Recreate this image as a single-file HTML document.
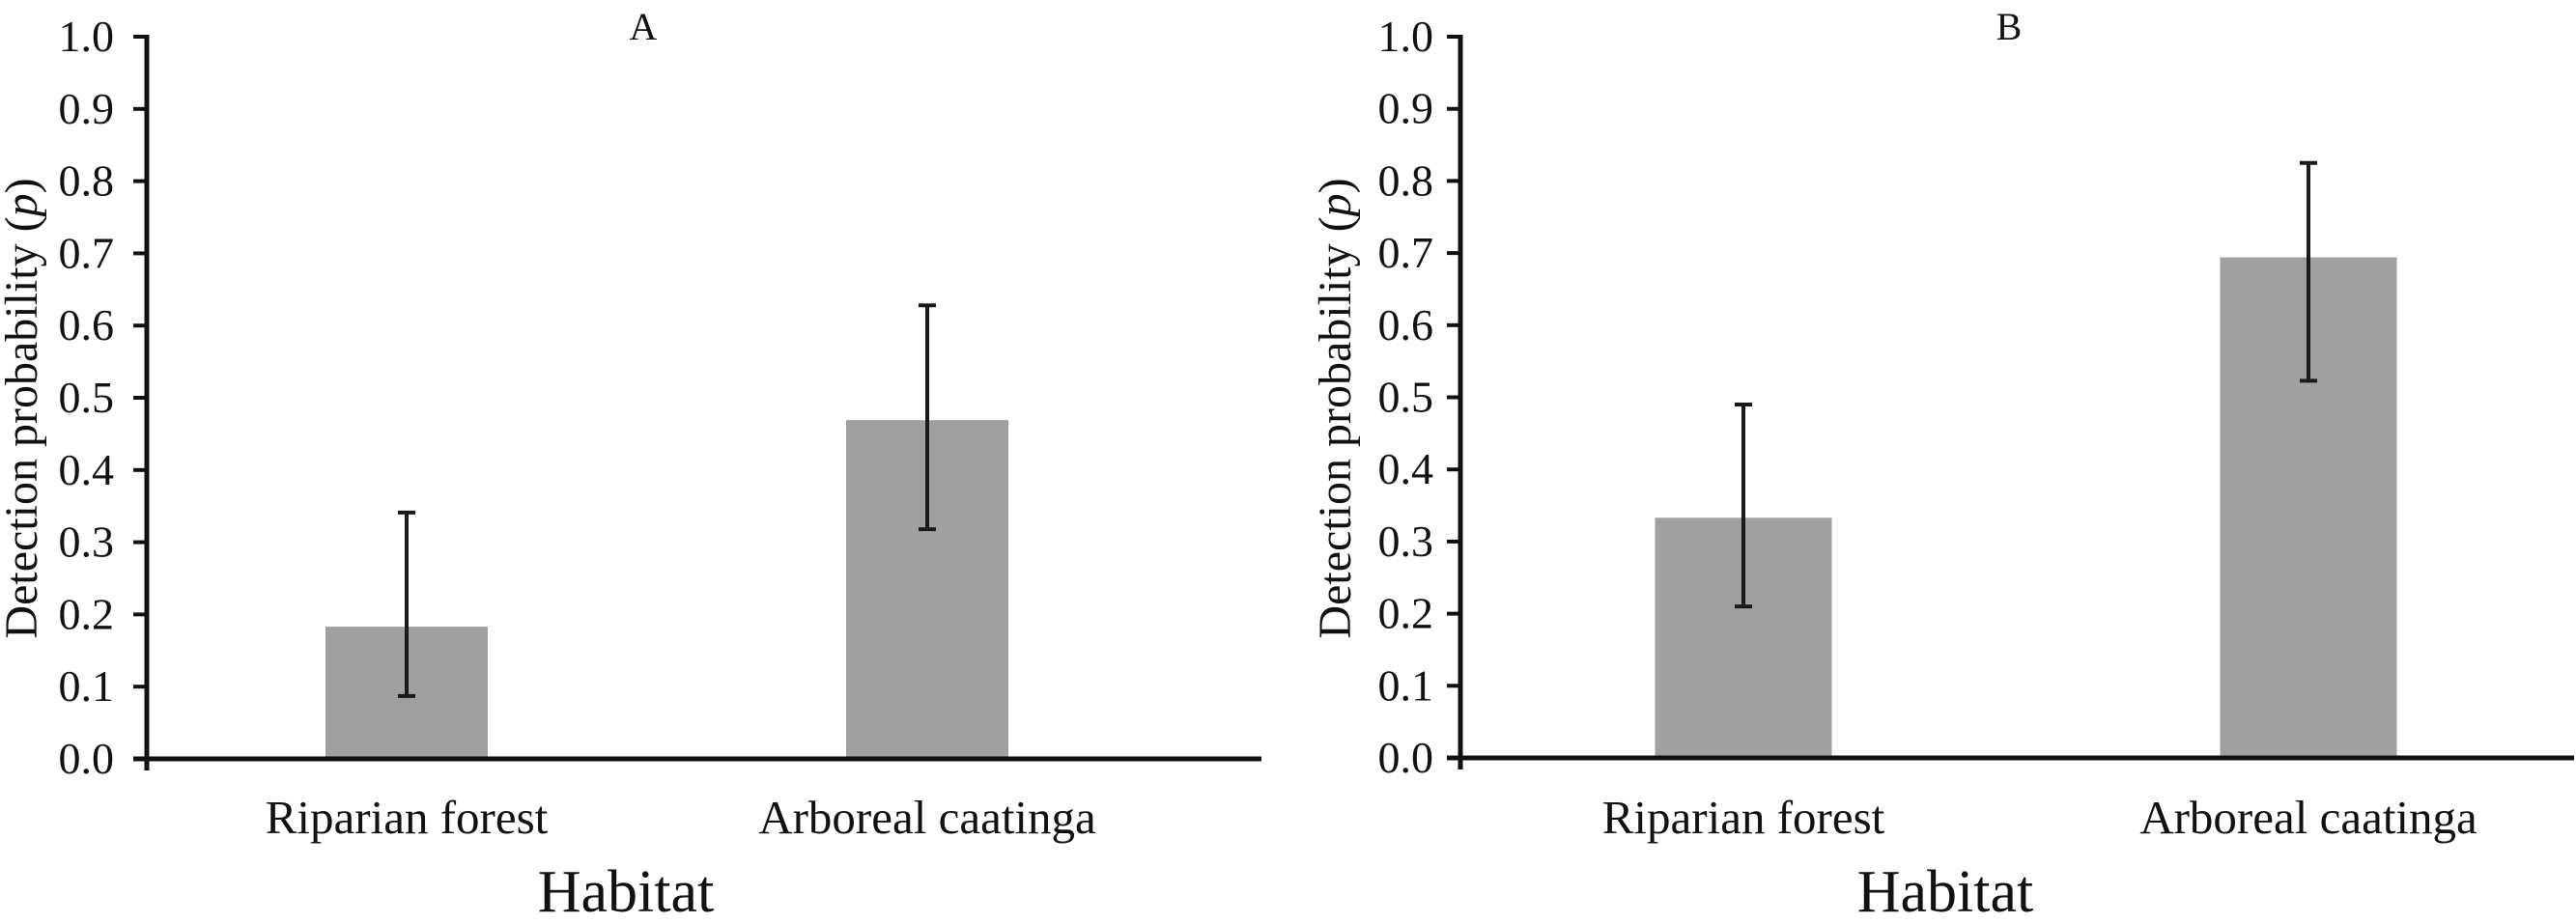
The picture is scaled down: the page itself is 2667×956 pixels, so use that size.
<!DOCTYPE html>
<html><head><meta charset="utf-8"><style>
html,body{margin:0;padding:0;background:#fff;}
svg{display:block;}
text{font-family:"Liberation Serif",serif;fill:#111;}
</style></head><body>
<svg id="chart" width="2667" height="956" viewBox="0 0 2667 956" xmlns="http://www.w3.org/2000/svg"></svg>
<script>
const categories = ["Riparian forest", "Arboreal caatinga"];
const panelLabels = ["A", "B"];
const valuesA = [0.183, 0.469];
const lowerA = [0.087, 0.318];
const upperA = [0.341, 0.628];
const valuesB = [0.333, 0.694];
const lowerB = [0.21, 0.523];
const upperB = [0.49, 0.825];
const yTicks = ["0.0","0.1","0.2","0.3","0.4","0.5","0.6","0.7","0.8","0.9","1.0"];

const NS = "http://www.w3.org/2000/svg";
const svg = document.getElementById('chart');
function mk(tag, attrs, parent){
  const e = document.createElementNS(NS, tag);
  for (const k in attrs) e.setAttribute(k, attrs[k]);
  (parent||svg).appendChild(e);
  return e;
}
const panels = [
  {x0:152, x1:1306, y0:786, y1:38, catX:[421,960], barW:168, titleX:666, yTitleX:38, habX:648, labelR:118, vals:valuesA, lo:lowerA, hi:upperA, key:'a'},
  {x0:1512, x1:2665, y0:785, y1:38, catX:[1805,2390], barW:183, titleX:2080, yTitleX:1398, habX:2014, labelR:1484, vals:valuesB, lo:lowerB, hi:upperB, key:'b'}
];
panels.forEach((p, pi) => {
  const g = mk('g', {});
  
  
  const y = v => p.y0 - v * (p.y0 - p.y1);
  p.vals.forEach((v, i) => {
    const r = mk('rect', {x: p.catX[i] - p.barW/2, y: y(v), width: p.barW, height: p.y0 - y(v), fill: '#a0a0a0'}, g);
    
    
    const eb = mk('g', {stroke:'#1a1a1a', 'stroke-width':4, fill:'none'}, g);
    
    
    mk('line', {x1:p.catX[i], x2:p.catX[i], y1:y(p.hi[i]), y2:y(p.lo[i])}, eb);
    mk('line', {x1:p.catX[i]-9, x2:p.catX[i]+9, y1:y(p.hi[i]), y2:y(p.hi[i])}, eb);
    mk('line', {x1:p.catX[i]-9, x2:p.catX[i]+9, y1:y(p.lo[i]), y2:y(p.lo[i])}, eb);
    const t = mk('text', {x:p.catX[i], y:863, 'font-size':49, 'text-anchor':'middle'}, g);
    t.textContent = categories[i];
    
    
  });
  const ax = mk('g', {stroke:'#111', fill:'none'}, g);
  
  
  mk('line', {x1:p.x0, x2:p.x0, y1:p.y1-2, y2:p.y0+12, 'stroke-width':5}, ax);
  mk('line', {x1:p.x0-14, x2:p.x1, y1:p.y0, y2:p.y0, 'stroke-width':5}, ax);
  yTicks.forEach((lab, i) => {
    const v = i / (yTicks.length - 1);
    mk('line', {x1:p.x0-14, x2:p.x0, y1:y(v), y2:y(v), 'stroke-width':4}, ax);
    const t = mk('text', {x:p.labelR, y:y(v)+15, 'font-size':46, 'text-anchor':'end'}, g);
    t.textContent = lab;
    
    
  });
  const tt = mk('text', {x:p.titleX, y:41, 'font-size':40, 'text-anchor':'middle'}, g);
  tt.textContent = panelLabels[pi];
  
  
  const yt = mk('text', {x:0, y:0, 'font-size':48, 'text-anchor':'middle', transform:'translate(' + p.yTitleX + ',423) rotate(-90)'}, g);
  yt.innerHTML = 'Detection probability (<tspan font-style="italic">p</tspan>)';
  
  
  const ht = mk('text', {x:p.habX, y:944, 'font-size':62, 'text-anchor':'middle'}, g);
  ht.textContent = 'Habitat';
  
  
});
</script>
</body></html>
